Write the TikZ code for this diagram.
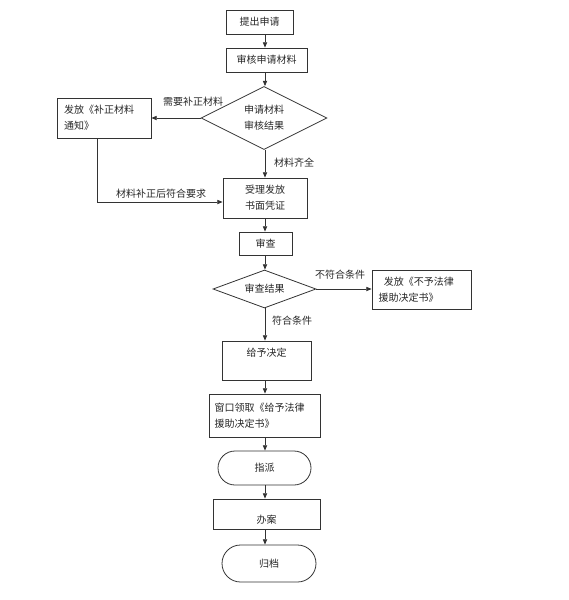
\documentclass[tikz,border=0pt]{standalone}
\usepackage{fontspec}
\setmainfont{Noto Sans CJK SC}
\usetikzlibrary{arrows.meta,shapes.geometric,shapes.misc}
\begin{document}
\begin{tikzpicture}[x=0.75pt,y=-0.75pt,
  every node/.style={font=\fontsize{7.5pt}{12pt}\selectfont, text=black!85},
  box/.style={draw=black!80, line width=0.6pt, rectangle, inner sep=0pt},
  dia/.style={draw=black!80, line width=0.6pt, diamond, aspect=2, inner sep=0pt, align=center},
  stad/.style={draw=black!80, line width=0.6pt, rounded rectangle, inner sep=0pt},
  arr/.style={draw=black!80, line width=0.6pt, -{Triangle[length=4pt,width=3.2pt]}},
  lab/.style={inner sep=0pt}
]
\useasboundingbox (0,0) rectangle (568,600);
\coordinate (ax) at (265,0);

\node[box, minimum width={67*0.75pt}, minimum height={24*0.75pt}] (b1) at (259.5,22) {提出申请};
\node[box, minimum width={81*0.75pt}, minimum height={24*0.75pt}] (b2) at (266.5,60) {审核申请材料};
\node[dia, minimum width={126*0.75pt}, minimum height={63*0.75pt}] (d1) at (264,118) {申请材料\\审核结果};
\node[box, minimum width={94*0.75pt}, minimum height={40*0.75pt}, align=left, text width={80*0.75pt}] (lb) at (104,118) {发放《补正材料\\通知》};
\node[box, minimum width={84*0.75pt}, minimum height={40*0.75pt}, align=center] (b3) at (265,198) {受理发放\\书面凭证};
\node[box, minimum width={53*0.75pt}, minimum height={23*0.75pt}] (b4) at (265.5,243.5) {审查};
\node[dia, minimum width={103*0.75pt}, minimum height={38*0.75pt}] (d2) at (264.5,289) {审查结果};
\node[box, minimum width={99*0.75pt}, minimum height={39*0.75pt}, align=left, text width={86*0.75pt}] (rb) at (421.5,289.5) {\hspace*{4pt}发放《不予法律\\援助决定书》};
\node[box, minimum width={89*0.75pt}, minimum height={39*0.75pt}] (b5) at (266.5,360.5) {};
\node[lab] (b5t) at (266.5,353) {给予决定};
\node[box, minimum width={111*0.75pt}, minimum height={43*0.75pt}, align=left, text width={100*0.75pt}] (b6) at (264.5,415.5) {窗口领取《给予法律\\援助决定书》};
\node[stad, minimum width={93*0.75pt}, minimum height={34*0.75pt}] (b7) at (264.5,468) {指派};
\node[box, minimum width={107*0.75pt}, minimum height={30*0.75pt}] (b8) at (266.5,514) {};
\node[lab] (b8t) at (266.5,520) {办案};
\node[stad, minimum width={94*0.75pt}, minimum height={37*0.75pt}] (b9) at (269,563.5) {归档};

\draw[arr] (b1.south -| ax) -- (b2.north -| ax);
\draw[arr] (b2.south -| ax) -- (d1.north -| ax);
\draw[arr] (d1.west) -- (lb.east);
\node[lab] (l1) at (193,102) {需要补正材料};
\draw[arr] (d1.south -| ax) -- (b3.north -| ax);
\node[lab] (l2) at (294,163) {材料齐全};
\coordinate (c1) at (97,202);
\draw[arr] (lb.south -| c1) -- (c1) -- (b3.west |- c1);
\node[lab] (l3) at (161,194) {材料补正后符合要求};
\draw[arr] (b3.south -| ax) -- (b4.north -| ax);
\draw[arr] (b4.south -| ax) -- (d2.north -| ax);
\draw[arr] (d2.east) -- (rb.west |- d2.east);
\node[lab] (l4) at (340,275) {不符合条件};
\draw[arr] (d2.south -| ax) -- (b5.north -| ax);
\node[lab] (l5) at (292,321) {符合条件};
\draw[arr] (b5.south -| ax) -- (b6.north -| ax);
\draw[arr] (b6.south -| ax) -- (b7.north -| ax);
\draw[arr] (b7.south -| ax) -- (b8.north -| ax);
\draw[arr] (b8.south -| ax) -- (b9.north -| ax);
\end{tikzpicture}
\end{document}
